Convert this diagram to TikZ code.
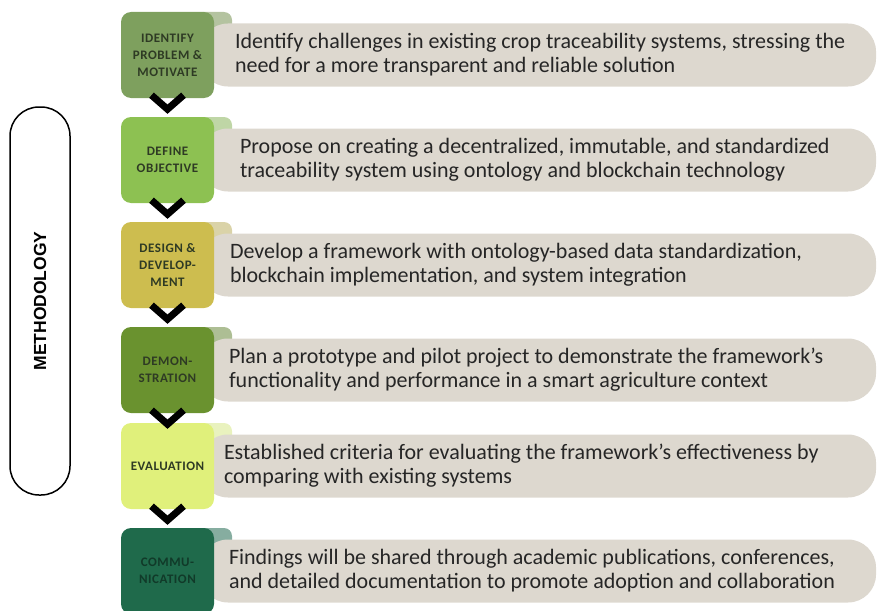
\documentclass[tikz,border=0pt]{standalone}
\usepackage{fontspec}
\setmainfont{Carlito}
\newfontfamily\labelfont[LetterSpace=4]{Carlito}
\newfontfamily\framefont{Liberation Sans}
\usetikzlibrary{positioning}

\definecolor{noteback}{HTML}{DDD8CF}
\definecolor{labelink}{HTML}{2E3A24}
\definecolor{stepA}{HTML}{7EA05E}
\definecolor{stepB}{HTML}{8DC152}
\definecolor{stepC}{HTML}{CDBD4F}
\definecolor{stepD}{HTML}{6A922F}
\definecolor{stepE}{HTML}{E0F07B}
\definecolor{stepF}{HTML}{1F6A4B}
\definecolor{tabA}{HTML}{B4C3A0}
\definecolor{tabB}{HTML}{BFD6A6}
\definecolor{tabC}{HTML}{DAD3A8}
\definecolor{tabD}{HTML}{ADBE94}
\definecolor{tabE}{HTML}{E9F2BE}
\definecolor{tabF}{HTML}{86ADA0}

\tikzstyle{stage} = [
rectangle,
rounded corners=10pt,
minimum width=93pt,
minimum height=86pt,
inner sep=0pt,
align=center,
text=labelink,
font=\labelfont\bfseries\fontsize{13}{17}\selectfont
]
\tikzstyle{tab} = [
rectangle,
rounded corners=8pt,
minimum width=36pt,
minimum height=22pt
]
\tikzstyle{banner} = [
rectangle,
rounded corners=28pt,
minimum width=676pt,
minimum height=63pt,
fill=noteback
]
\tikzstyle{note} = [
anchor=west,
inner sep=0pt,
align=left,
text=black!85,
font=\fontsize{22}{24}\selectfont
]
\tikzstyle{chevron} = [
line width=7pt,
line join=miter,
black
]

\begin{document}
\begin{tikzpicture}[x=1pt, y=-1pt]

\useasboundingbox (0,0) rectangle (877,610);

% Outline on the left
\node (method) [draw, line width=1.5pt, rounded corners=29pt,
  minimum width=388pt, minimum height=60pt, rotate=90,
  font=\framefont\bfseries\fontsize{17.5}{17.5}\selectfont]
  at (40,301) {METHODOLOGY};

% Tabs
\node (tab1) [tab, fill=tabA] at (214,23) {};
\node (tab2) [tab, fill=tabB] at (214,128) {};
\node (tab3) [tab, fill=tabC] at (214,233) {};
\node (tab4) [tab, fill=tabD] at (214,338) {};
\node (tab5) [tab, fill=tabE] at (214,434) {};
\node (tab6) [tab, fill=tabF] at (214,539) {};

% Banners
\node (band1) [banner] at (538,55) {};
\node (band2) [banner] at (538,160) {};
\node (band3) [banner] at (538,265) {};
\node (band4) [banner] at (538,370) {};
\node (band5) [banner] at (538,466) {};
\node (band6) [banner] at (538,571) {};

% Stages
\node (identify) [stage, fill=stepA] at (167.5,55)
{IDENTIFY\\PROBLEM \&\\MOTIVATE};
\node (define) [stage, fill=stepB] at (167.5,160)
{DEFINE\\OBJECTIVE};
\node (design) [stage, fill=stepC] at (167.5,265)
{DESIGN \&\\DEVELOP-\\MENT};
\node (demo) [stage, fill=stepD] at (167.5,370)
{DEMON-\\STRATION};
\node (evaluation) [stage, fill=stepE] at (167.5,466)
{EVALUATION};
\node (communication) [stage, fill=stepF, text=stepF!55!black] at (167.5,571)
{COMMU-\\NICATION};

% Notes
\node (note1) [note] at ([xshift=35pt]band1.west)
{Identify challenges in existing crop traceability systems, stressing the\\
need for a more transparent and reliable solution};
\node (note2) [note] at ([xshift=40pt]band2.west)
{Propose on creating a decentralized, immutable, and standardized\\
traceability system using ontology and blockchain technology};
\node (note3) [note] at ([xshift=30pt]band3.west)
{Develop a framework with ontology-based data standardization,\\
blockchain implementation, and system integration};
\node (note4) [note] at ([xshift=29pt]band4.west)
{Plan a prototype and pilot project to demonstrate the framework's\\
functionality and performance in a smart agriculture context};
\node (note5) [note] at ([xshift=24pt]band5.west)
{Established criteria for evaluating the framework's effectiveness by\\
comparing with existing systems};
\node (note6) [note] at ([xshift=29pt]band6.west)
{Findings will be shared through academic publications, conferences,\\
and detailed documentation to promote adoption and collaboration};

% Chevrons
\draw [chevron] ([xshift=-16pt,yshift=3pt]identify.south) -- ([yshift=-11pt]identify.south) -- ([xshift=16pt,yshift=3pt]identify.south);
\draw [chevron] ([xshift=-16pt,yshift=3pt]define.south) -- ([yshift=-11pt]define.south) -- ([xshift=16pt,yshift=3pt]define.south);
\draw [chevron] ([xshift=-16pt,yshift=3pt]design.south) -- ([yshift=-11pt]design.south) -- ([xshift=16pt,yshift=3pt]design.south);
\draw [chevron] ([xshift=-16pt,yshift=3pt]demo.south) -- ([yshift=-11pt]demo.south) -- ([xshift=16pt,yshift=3pt]demo.south);
\draw [chevron] ([xshift=-16pt,yshift=3pt]evaluation.south) -- ([yshift=-11pt]evaluation.south) -- ([xshift=16pt,yshift=3pt]evaluation.south);

\end{tikzpicture}
\end{document}
